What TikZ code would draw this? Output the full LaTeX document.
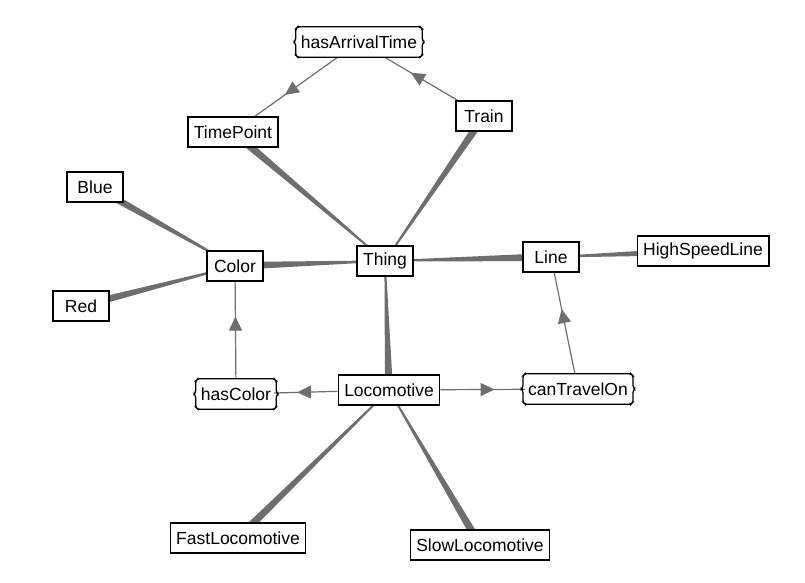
\documentclass[tikz,border=0pt]{standalone}
\usepackage{fontspec}
\setmainfont{Liberation Sans}
\usetikzlibrary{arrows.meta,calc,decorations.markings}
\pgfdeclarelayer{bg}
\pgfsetlayers{bg,main}
\definecolor{edgegray}{HTML}{6E6E6E}

% subclass link: a wedge that widens from the parent towards the child
\newcommand\taper[2]{%
  \fill[edgegray] ($(#1)!0.6pt!90:(#2)$) -- ($(#1)!0.6pt!-90:(#2)$)
    -- ($(#2)!4pt!90:(#1)$) -- ($(#2)!4pt!-90:(#1)$) -- cycle;}

\begin{document}
\begin{tikzpicture}[x=1pt,y=-1pt,
  lbl/.style={font=\fontsize{17.5}{20}\selectfont, text=black},
  cls/.style={lbl, draw=black, line width=1.3pt, fill=white,
    minimum width=56pt, minimum height=30pt, inner xsep=6pt},
  prop/.style={lbl, fill=white, minimum height=30pt, inner xsep=3pt},
  propborder/.style={draw=black, line width=1.3pt, rounded corners=1.5pt},
  propedge/.style={draw=edgegray, color=edgegray, line width=1.2pt,
    postaction={decorate},
    decoration={markings, mark=at position 0.64 with
      {\arrow{Triangle[length=14pt,width=13pt]}}}}]

\useasboundingbox (0,0) rectangle (805,583);

% classes
\node[cls] (tp)    at (233,132) {TimePoint};
\node[cls] (train) at (484,116) {Train};
\node[cls] (blue)  at (95,187)  {Blue};
\node[cls] (color) at (235,266) {Color};
\node[cls] (red)   at (81,306)  {Red};
\node[cls] (thing) at (385,261) {Thing};
\node[cls] (line)  at (551,257) {Line};
\node[cls] (hsl)   at (703,251) {HighSpeedLine};
\node[cls] (loco)  at (389,390) {Locomotive};
\node[cls] (fast)  at (238,538) {FastLocomotive};
\node[cls] (slow)  at (480,545) {SlowLocomotive};

% properties
\node[prop] (hat) at (359,42)  {hasArrivalTime};
\node[prop] (hc)  at (236,394) {hasColor};
\node[prop] (cto) at (578,389) {canTravelOn};

% brace-sided outline of the property boxes
\foreach \n in {hat,hc,cto}{
  \draw[propborder] (\n.north west) -- (\n.north east)
    -- ($(\n.north east)+(2,2)$) -- ($(\n.east)+(2,-2)$)
    -- ($(\n.east)+(4,0)$) -- ($(\n.east)+(2,2)$)
    -- ($(\n.south east)+(2,-2)$) -- (\n.south east)
    -- (\n.south west) -- ($(\n.south west)+(-2,-2)$)
    -- ($(\n.west)+(-2,2)$) -- ($(\n.west)+(-4,0)$)
    -- ($(\n.west)+(-2,-2)$) -- ($(\n.north west)+(-2,2)$) -- cycle;
}

\begin{pgfonlayer}{bg}
  \fill[white] (0,0) rectangle (805,583);
  % subclass links
  \taper{thing}{tp}
  \taper{thing}{train}
  \taper{thing}{color}
  \taper{thing}{line}
  \taper{thing}{loco}
  \taper{color}{blue}
  \taper{color}{red}
  \taper{line}{hsl}
  \taper{loco}{fast}
  \taper{loco}{slow}
  % property links
  \draw[propedge] (hat) -- (tp);
  \draw[propedge] (train) -- (hat);
  \draw[propedge] (loco) -- (hc);
  \draw[propedge] (hc) -- (color);
  \draw[propedge] (loco) -- (cto);
  \draw[propedge] (cto) -- (line);
\end{pgfonlayer}
\end{tikzpicture}
\end{document}
